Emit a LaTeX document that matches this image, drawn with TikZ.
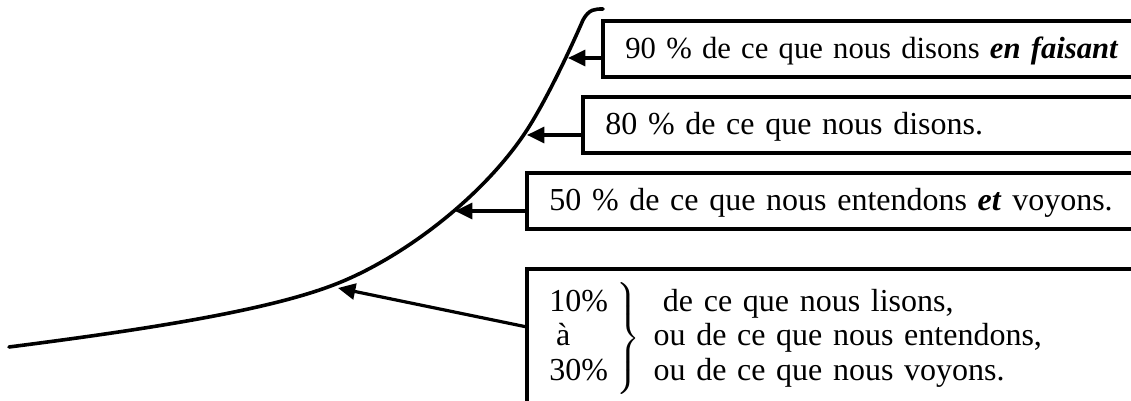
\documentclass[tikz,border=0pt]{standalone}
\usepackage{fontspec}
\setmainfont{Liberation Serif}
\usetikzlibrary{arrows.meta,calc}

\tikzset{
  curveline/.style={line width=1.35pt, line cap=round, line join=round},
  pointer/.style={line width=1.2pt, -{Triangle[length=6.5pt,width=6pt]}},
  framebox/.style={draw, line width=1.25pt, outer sep=0pt, anchor=north west,
                   align=left, inner xsep=8.4pt,
                   font=\fontsize{12}{13}\selectfont},
  notebox/.style={framebox, minimum height=21pt, text height=9pt, text depth=1.5pt},
  lowbox/.style={framebox, inner ysep=4pt, text height=25.2pt, text depth=60pt}
}

\begin{document}
\begin{tikzpicture}[x=0.375pt, y=-0.375pt]
  \useasboundingbox (0,0) rectangle (1131,401);
  \clip (0,0) rectangle (1131,401);

  %% ---- 學習曲線 ----
  \draw[curveline] (9,347)
    .. controls (150,329) and (270,310) .. (336,284)
    .. controls (400,259) and (480,200) .. (525,133)
    .. controls (545,103) and (570,50) .. (583,20)
    .. controls (589,9) and (595,9) .. (603,9);

  %% 箭號在曲線上的落點
  \coordinate (tip90) at (568,58);
  \coordinate (tip80) at (527,135);
  \coordinate (tip50) at (455,211);
  \coordinate (tiplow) at (338,288);

  %% ---- 右側的說明框 (右緣超出畫面) ----
  \node[notebox, text width=195pt, font=\fontsize{11.5}{13}\selectfont] (box90) at (603,21)
    {90 \% de ce que nous disons \textbf{\textit{en faisant}}};
  \node[notebox, text width=203pt] (box80) at (583,97)
    {80 \% de ce que nous disons.};
  \node[notebox, text width=224pt] (box50) at (527,173)
    {50 \% de ce que nous entendons \textbf{\textit{et}} voyons.};
  \node[lowbox, text width=224pt] (boxlow) at (527,269)
    {\begin{tabular}{@{}l@{}}10\%\\\hspace{2.5pt}à\\30\%\end{tabular}\hspace{2pt}%
     \smash{$\left.\rule[-17pt]{0pt}{40pt}\right\}$}\hspace{5pt}%
     \begin{tabular}{@{}l@{}}\hspace{3.5pt}de ce que nous lisons,\\
       ou de ce que nous entendons,\\ou de ce que nous voyons.\end{tabular}};

  %% ---- 箭號 ----
  \draw[pointer] (tip90 -| box90.west) -- (tip90);
  \draw[pointer] (tip80 -| box80.west) -- (tip80);
  \draw[pointer] (tip50 -| box50.west) -- (tip50);
  \draw[pointer] ($(boxlow.north west)+(0,58)$) -- (tiplow);

\end{tikzpicture}
\end{document}
